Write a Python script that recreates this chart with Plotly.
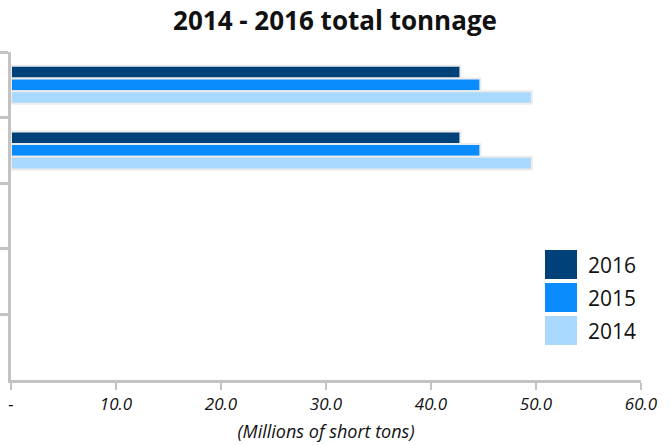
import plotly.graph_objects as go

categories = ["Category A", "Category B", "Category C", "Category D", "Category E"]
series_names = ["2016", "2015", "2014"]
values_2016 = [42.8, 42.8, None, None, None]
values_2015 = [44.7, 44.7, None, None, None]
values_2014 = [49.6, 49.6, None, None, None]
colors = ["#00417a", "#0a8cff", "#aad9ff"]
x_tickvals = [0, 10, 20, 30, 40, 50, 60]
x_ticktext = ["-", "10.0", "20.0", "30.0", "40.0", "50.0", "60.0"]

series_values = [values_2016, values_2015, values_2014]

FONT = "Open Sans"

fig = go.Figure()
for name, vals, col in zip(series_names, series_values, colors):
    fig.add_trace(go.Bar(
        y=categories, x=vals, name=name, orientation="h",
        marker=dict(color=col, line=dict(color="#ececec", width=2)),
        showlegend=False,
    ))

# custom legend (large swatches)
leg_top = [250, 283, 316]
for i, (name, col) in enumerate(zip(series_names, colors)):
    fig.add_shape(type="rect", xref="paper", yref="paper",
                  x0=(545 - 11) / 630, x1=(577 - 11) / 630,
                  y0=(445 - 65 - (leg_top[i] + 29)) / 328,
                  y1=(445 - 65 - leg_top[i]) / 328,
                  fillcolor=col, line=dict(width=0))
    fig.add_annotation(xref="paper", yref="paper",
                       x=(586 - 11) / 630,
                       y=(445 - 65 - (leg_top[i] + 14.5)) / 328,
                       text=name, showarrow=False, xanchor="left", yanchor="middle",
                       font=dict(family=FONT, size=21, color="#111111"))

fig.update_layout(
    width=671, height=445,
    margin=dict(l=11, r=30, t=52, b=65, autoexpand=False),
    paper_bgcolor="white", plot_bgcolor="white",
    barmode="group", bargap=0.42, bargroupgap=0,
    title=dict(text="<b>2014 - 2016 total tonnage</b>", x=(335 - 11) / 630, xanchor="center",
               xref="paper", y=1 - 21 / 445, yanchor="middle",
               font=dict(family=FONT, size=26, color="#111111")),
    font=dict(family=FONT, color="#111111"),
)
fig.update_xaxes(
    range=[0, 60], tickvals=x_tickvals, ticktext=x_ticktext, automargin=False,
    showgrid=False, zeroline=False, showline=True, linecolor="#c3c3c3", linewidth=2.5,
    ticks="outside", ticklen=7, tickwidth=2, tickcolor="#c3c3c3",
    tickfont=dict(family=FONT, size=17, style="italic", color="#111111"),
    title=dict(text="(Millions of short tons)", standoff=12,
               font=dict(family=FONT, size=18, style="italic", color="#111111")),
)
fig.update_yaxes(
    autorange="reversed", showticklabels=False, tickson="boundaries", automargin=False,
    showgrid=False, zeroline=False, showline=True, linecolor="#c3c3c3", linewidth=2.5,
    ticks="outside", ticklen=11, tickwidth=2.5, tickcolor="#c3c3c3",
)

fig.write_html("out.html", config={"displayModeBar": False},
               post_script="document.body.style.margin='0';")
